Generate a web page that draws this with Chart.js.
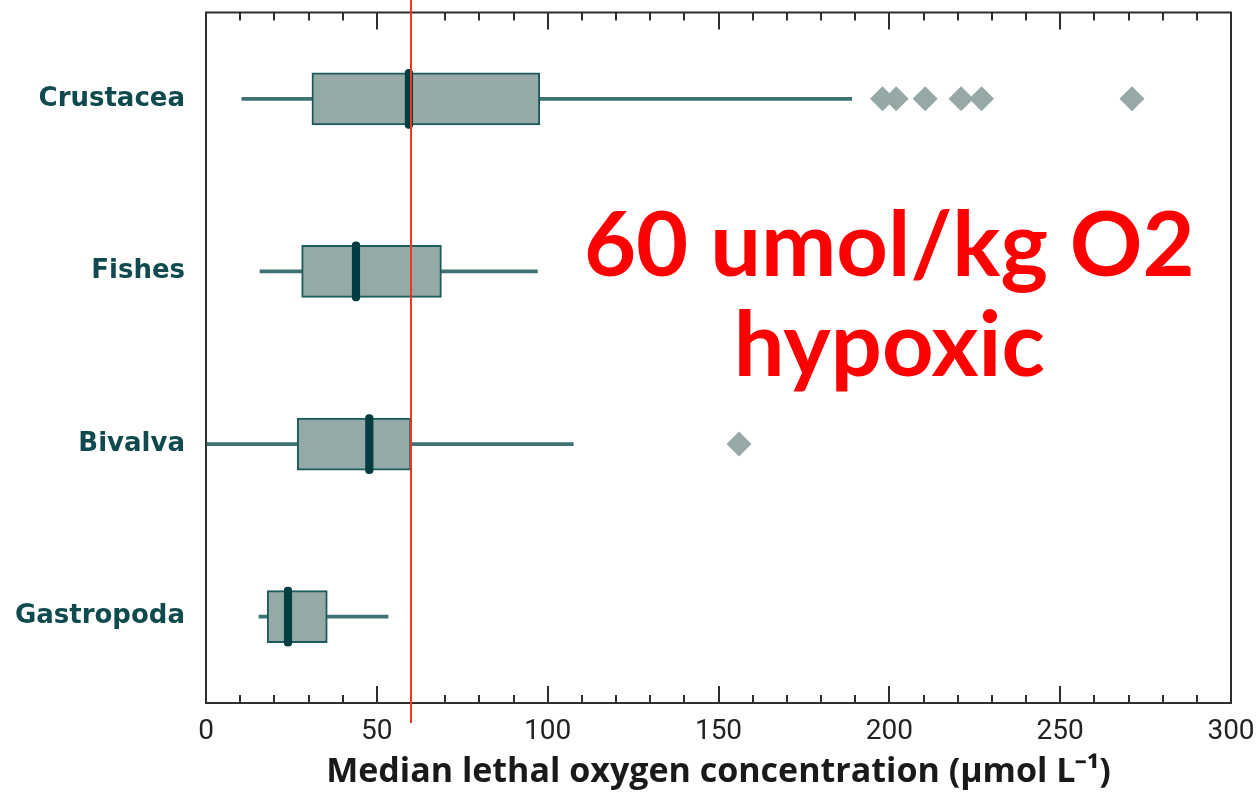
<!DOCTYPE html>
<html>
<head>
<meta charset="utf-8">
<script src="https://cdn.jsdelivr.net/npm/chart.js@4.4.1/dist/chart.umd.min.js"></script>
<style>
    html, body { margin: 0; padding: 0; background: #fff; }
</style>
</head>
<body>
<canvas id="lethalO2" width="1259" height="793"></canvas>
<script>
// median lethal O2 per taxon (umol/L)
const groups = ['Crustacea', 'Fishes', 'Bivalva', 'Gastropoda'];
const whiskerLow = [10.5, 15.8, 0.3, 15.5];
const quartileLow = [31, 28, 26.7, 17.9];
const medians = [59.4, 43.9, 47.8, 24];
const quartileHigh = [97.7, 68.9, 60, 35.5];
const whiskerHigh = [189, 97, 107.5, 53.3];

const outlierGroups = ['Crustacea', 'Crustacea', 'Crustacea', 'Crustacea', 'Crustacea', 'Crustacea', 'Bivalva'];
const outlierValues = [198, 202, 210.5, 221, 227, 271, 156];

const hypoxicLimit = 60;
const noteLines = ['60 umol/kg O2', 'hypoxic'];
const axisTitle = 'Median lethal oxygen concentration (\u00b5mol L\u207b\u00b9)';

const boxData = groups.map((g, i) => [quartileLow[i], quartileHigh[i]]);
const whiskerData = groups.map((g, i) => [whiskerLow[i], whiskerHigh[i]]);
const medianData = medians.map(m => [m - 1.1, m + 1.1]);
const outlierData = outlierValues.map((v, i) => ({ x: v, y: outlierGroups[i] }));

// frame, inward ticks top and bottom, the 60 line and its note
const frameAndTicks = {
    id: 'frameAndTicks',
    afterDatasetsDraw(chart) {
        const { ctx, chartArea: a, scales: { x } } = chart;
        ctx.save();
        ctx.strokeStyle = '#2e2e2e';
        ctx.lineWidth = 2;
        ctx.strokeRect(a.left, a.top, a.right - a.left, a.bottom - a.top);
        x.ticks.forEach(t => {
            const px = Math.round(x.getPixelForValue(t.value));
            const len = t.value % 50 === 0 ? 17 : 8;
            ctx.beginPath();
            ctx.moveTo(px, a.bottom);
            ctx.lineTo(px, a.bottom - len);
            ctx.moveTo(px, a.top);
            ctx.lineTo(px, a.top + len);
            ctx.stroke();
        });

        const lx = x.getPixelForValue(hypoxicLimit);
        ctx.strokeStyle = '#f2361e';
        ctx.lineWidth = 2;
        ctx.beginPath();
        ctx.moveTo(lx, 0);
        ctx.lineTo(lx, a.bottom + 20);
        ctx.stroke();

        ctx.fillStyle = '#ff0000';
        ctx.font = 'bold 90px Lato';
        ctx.textAlign = 'center';
        ctx.textBaseline = 'alphabetic';
        const nx = x.getPixelForValue(200);
        noteLines.forEach((s, i) => ctx.fillText(s, nx, 276 + i * 100));
        ctx.restore();
    }
};

new Chart(document.getElementById('lethalO2'), {
    type: 'bar',
    data: {
        labels: groups,
        datasets: [
            {
                label: 'Median',
                data: medianData,
                backgroundColor: '#003d41',
                barThickness: 59,
                borderRadius: 4,
                borderSkipped: false,
                grouped: false,
                order: 0
            },
            {
                label: 'Interquartile range',
                data: boxData,
                backgroundColor: '#95a9a6',
                borderColor: '#1d5a5d',
                borderWidth: 2,
                borderSkipped: false,
                barThickness: 52,
                grouped: false,
                order: 1
            },
            {
                label: 'Range',
                data: whiskerData,
                backgroundColor: '#3e7274',
                barThickness: 3,
                grouped: false,
                order: 2
            },
            {
                type: 'scatter',
                label: 'Outliers',
                data: outlierData,
                pointStyle: 'rectRot',
                pointRadius: 12.5,
                backgroundColor: '#96a9a6',
                borderWidth: 0,
                order: 0
            }
        ]
    },
    options: {
        indexAxis: 'y',
        responsive: false,
        animation: false,
        layout: { padding: { top: 8, right: 28, left: 0, bottom: 0 } },
        plugins: {
            legend: { display: false },
            tooltip: { enabled: false }
        },
        scales: {
            x: {
                type: 'linear',
                min: 0,
                max: 300,
                grid: { display: false, drawTicks: false },
                border: { display: false },
                ticks: {
                    stepSize: 10,
                    autoSkip: false,
                    maxRotation: 0,
                    padding: 12,
                    color: '#222',
                    font: { family: 'Roboto', size: 28 },
                    callback: v => (v % 50 === 0 ? v : '')
                },
                title: {
                    display: true,
                    text: axisTitle,
                    color: '#1a1a1a',
                    font: { family: 'Open Sans', size: 34, weight: 'bold' },
                    padding: { top: 4, bottom: 0 }
                },
                afterFit: scale => {
                    scale.height = 90;
                    scale.paddingLeft = 0;
                    scale.paddingRight = 0;
                }
            },
            y: {
                type: 'category',
                offset: true,
                grid: { display: false, drawTicks: false },
                border: { display: false },
                ticks: {
                    padding: 21,
                    color: '#0f4a4e',
                    font: { family: 'DejaVu Sans', size: 26, weight: 'bold' }
                },
                afterFit: scale => {
                    scale.width = 206;
                    scale.paddingTop = 0;
                    scale.paddingBottom = 0;
                }
            }
        }
    },
    plugins: [frameAndTicks]
});
</script>
</body>
</html>
